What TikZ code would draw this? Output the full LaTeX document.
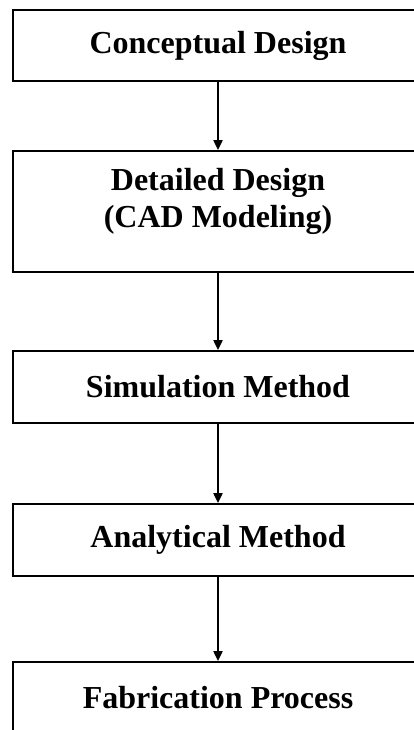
\documentclass[tikz,border=0pt]{standalone}
\usepackage{fontspec}
\setmainfont{Liberation Serif}
\usetikzlibrary{arrows.meta}
\tikzset{>={Triangle[length=10pt,width=9pt]}}
\tikzset{stage/.style={draw,line width=1.8pt,minimum width=410pt,inner sep=0pt,align=center,font=\bfseries\fontsize{32}{37}\selectfont}}

\begin{document}
\begin{tikzpicture}[x=1pt,y=-1pt]
      \useasboundingbox (0,0) rectangle (414,730);
      \clip (0,0) rectangle (414,730);
      \node[stage,minimum height=71pt] at (218, 45.5)   (concept) {Conceptual Design};
      \node[stage,minimum height=121pt] at (218, 211.5) (detail) {Detailed Design\\(CAD Modeling)\\[-10pt]\mbox{}};
      \node[stage,minimum height=72pt] at (218, 387)   (sim) {Simulation Method};
      \node[stage,minimum height=72pt] at (218, 540)   (anal) {Analytical Method};
      \node[stage,minimum height=72pt] at (218, 698)   (fab) {Fabrication Process};
      % flow
    \draw[line width=2pt,->](concept)--(detail);
    \draw[line width=2pt,->](detail)--(sim);
    \draw[line width=2pt,->](sim)--(anal);
    \draw[line width=2pt,->](anal)--(fab);
    \end{tikzpicture}
\end{document}
